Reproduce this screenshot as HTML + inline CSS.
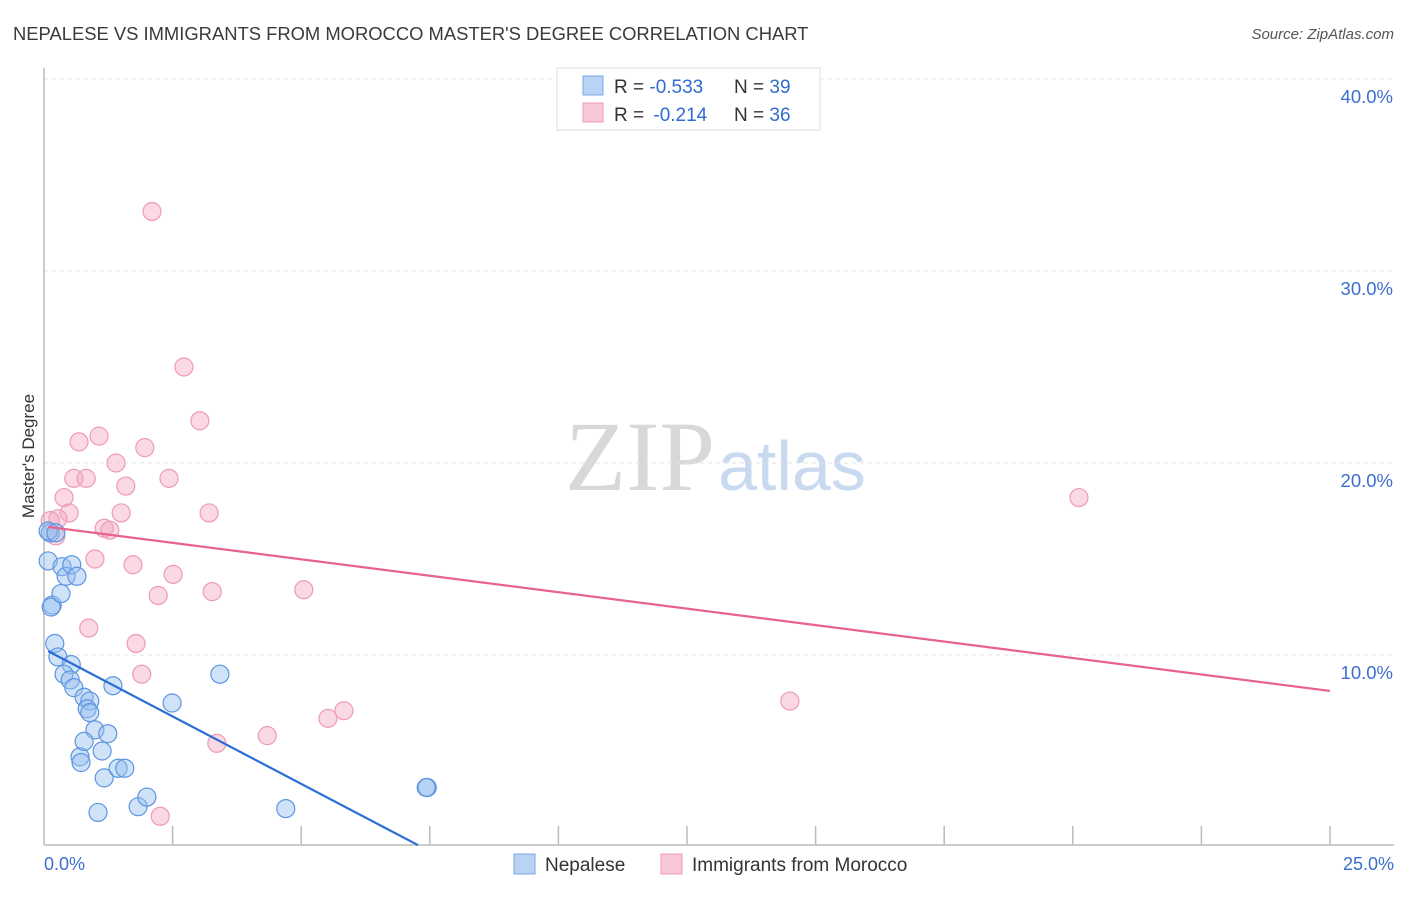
<!DOCTYPE html>
<html><head><meta charset="utf-8">
<style>
body{margin:0;background:#fff;font-family:"Liberation Sans",sans-serif;}
</style></head>
<body>
<svg id="chart" width="1406" height="892" viewBox="0 0 1406 892" xmlns="http://www.w3.org/2000/svg" style="font-family:'Liberation Sans',sans-serif">
<text x="13" y="40" font-size="18.4" fill="#3a3a3a">NEPALESE VS IMMIGRANTS FROM MOROCCO MASTER'S DEGREE CORRELATION CHART</text>
<text x="1394" y="39" font-size="15" fill="#555" font-style="italic" text-anchor="end">Source: ZipAtlas.com</text>
<text x="715" y="490" font-size="100" text-anchor="end" fill="#d8d8d8" style="font-family:'Liberation Serif',serif">ZIP</text>
<text x="718" y="490" font-size="70" fill="#c9daf0">atlas</text>
<g id="grid"></g>
<line x1="44" y1="68" x2="44" y2="845" stroke="#bbb" stroke-width="1.5"/>
<line x1="44" y1="845" x2="1394" y2="845" stroke="#bbb" stroke-width="1.5"/>
<text transform="translate(34,456) rotate(-90)" font-size="17" fill="#333" text-anchor="middle">Master's Degree</text>
<text x="44" y="870" font-size="18" fill="#3a6fd0">0.0%</text>
<text x="1394" y="870" font-size="18" fill="#3a6fd0" text-anchor="end">25.0%</text>
<g id="points"></g>
<g id="trends"></g>
<g>
<rect x="557" y="68" width="263" height="62" fill="#fff" stroke="#ddd"/>
<rect x="583" y="76" width="20" height="19" fill="#b9d3f5" stroke="#7aa7e6"/>
<rect x="583" y="103" width="20" height="19" fill="#f9c8d6" stroke="#ef9ab3"/>
<text x="614" y="93" font-size="19" fill="#333">R = <tspan fill="#2f6bd0">-0.533</tspan>   <tspan x="734">N = </tspan><tspan fill="#2f6bd0">39</tspan></text>
<text x="614" y="121" font-size="19" fill="#333">R = <tspan fill="#2f6bd0" dx="4">-0.214</tspan><tspan x="734">N = </tspan><tspan fill="#2f6bd0">36</tspan></text>
</g>
<g>
<rect x="514" y="854" width="21" height="20" fill="#b9d3f5" stroke="#7aa7e6"/>
<text x="545" y="871" font-size="19" fill="#333">Nepalese</text>
<rect x="661" y="854" width="21" height="20" fill="#f9c8d6" stroke="#ef9ab3"/>
<text x="692" y="871" font-size="19" fill="#333">Immigrants from Morocco</text>
</g>
</svg>
<script>
const yTicks=[10,20,30,40];
const yTickLabels=["10.0%","20.0%","30.0%","40.0%"];
const xTicks=[2.5,5,7.5,10,12.5,15,17.5,20,22.5,25];
const nepaleseX=[0.12,0.08,0.16,0.14,0.21,0.27,0.35,0.43,0.54,0.64,0.33,0.53,0.39,0.51,0.58,0.78,0.89,0.84,0.89,0.99,1.24,1.13,0.70,0.78,0.72,1.17,1.44,1.57,1.34,2.49,3.42,1.05,1.83,2.0,4.7,7.45,7.43,0.08,0.23];
const nepaleseY=[16.36,14.9,12.6,12.5,10.6,9.9,14.6,14.1,14.7,14.1,13.2,9.5,9.0,8.7,8.3,7.8,7.6,7.2,7.0,6.1,5.9,5.0,4.7,5.5,4.4,3.6,4.1,4.1,8.4,7.5,9.0,1.8,2.1,2.6,2.0,3.1,3.1,16.46,16.36];
const moroccoX=[2.1,2.72,3.03,1.07,0.68,1.96,1.4,0.58,0.82,2.43,1.59,0.39,3.21,1.5,0.49,0.27,0.12,1.17,1.28,0.23,0.99,1.73,2.51,3.27,2.22,5.05,0.87,1.79,1.9,5.83,5.52,4.34,3.36,2.26,14.5,20.12];
const moroccoY=[33.1,25.0,22.2,21.4,21.1,20.8,20.0,19.2,19.2,19.2,18.8,18.2,17.4,17.4,17.4,17.1,17.0,16.6,16.5,16.2,15.0,14.7,14.2,13.3,13.1,13.4,11.4,10.6,9.0,7.1,6.7,5.8,5.4,1.6,7.6,18.2];
const nepaleseTrend=[[0.08,10.2],[7.27,0.1]];
const moroccoTrend=[[0.08,16.67],[25,8.13]];
const X=v=>44+v/25*1286, Y=v=>847-v*19.2;
const NS="http://www.w3.org/2000/svg";
const grid=document.getElementById('grid');
yTicks.forEach((t,i)=>{
 const l=document.createElementNS(NS,'line');
 
 
 l.setAttribute('x1',44);l.setAttribute('x2',1394);l.setAttribute('y1',Y(t));l.setAttribute('y2',Y(t));
 l.setAttribute('stroke','#e3e3e3');l.setAttribute('stroke-dasharray','4,4');
 grid.appendChild(l);
 const tx=document.createElementNS(NS,'text');
 
 
 tx.setAttribute('x',1393);tx.setAttribute('y',Y(t)+24);tx.setAttribute('text-anchor','end');
 tx.setAttribute('font-size','18.5');tx.setAttribute('fill','#3a6fd0');
 tx.textContent=yTickLabels[i];grid.appendChild(tx);
});
xTicks.forEach(t=>{
 const l=document.createElementNS(NS,'line');
 
 
 l.setAttribute('x1',X(t));l.setAttribute('x2',X(t));l.setAttribute('y1',826);l.setAttribute('y2',845);
 l.setAttribute('stroke','#bbb');l.setAttribute('stroke-width','1.5');grid.appendChild(l);
});
const pts=document.getElementById('points');
function drawPts(xs,ys,fill,stroke,name){
 xs.forEach((x,i)=>{
  const c=document.createElementNS(NS,'circle');
  
  
  c.setAttribute('cx',X(x));c.setAttribute('cy',Y(ys[i]));c.setAttribute('r',9);
  c.setAttribute('fill',fill);c.setAttribute('stroke',stroke);c.setAttribute('stroke-width','1.2');
  pts.appendChild(c);
 });
}
drawPts(moroccoX,moroccoY,'rgba(245,170,195,0.45)','#ee9ab5','morocco-point');
drawPts(nepaleseX,nepaleseY,'rgba(150,190,240,0.45)','#5c95e0','nepalese-point');
const tr=document.getElementById('trends');
function drawLine(p,color,name){
 const l=document.createElementNS(NS,'line');
 
 
 l.setAttribute('x1',X(p[0][0]));l.setAttribute('y1',Y(p[0][1]));l.setAttribute('x2',X(p[1][0]));l.setAttribute('y2',Y(p[1][1]));
 l.setAttribute('stroke',color);l.setAttribute('stroke-width','2.2');tr.appendChild(l);
}
drawLine(moroccoTrend,'#e8618f','morocco-trend-line');
drawLine(nepaleseTrend,'#2a6fd6','nepalese-trend-line');
</script>
</body></html>
